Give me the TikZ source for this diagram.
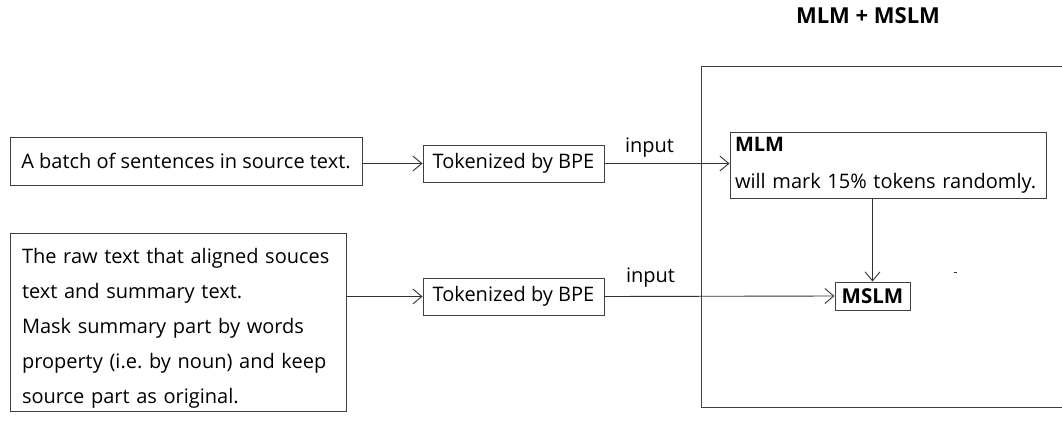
\documentclass[tikz,border=0pt]{standalone}
\usepackage{fontspec}
\setmainfont{Open Sans}
\usetikzlibrary{arrows.meta}

\begin{document}
\begin{tikzpicture}[
  x=1pt, y=-1pt,
  box/.style={draw=black!75, line width=1pt, inner sep=0pt},
  txt/.style={font=\fontsize{20}{35}\selectfont},
  arr/.style={draw=black!80, line width=0.9pt, -{Straight Barb[length=9pt,width=15pt]}},
  lnk/.style={draw=black!80, line width=0.9pt}
]
\clip (0,0) rectangle (1062,423);

\node [font=\fontsize{22}{24}\selectfont\bfseries] (title) at (868,16) {MLM + MSLM};
\node [box, minimum width=368, minimum height=341] (frame) at (885.5,236.5) {};

\node [box, txt, minimum width=352, minimum height=48] (src) at (186,161) {A batch of sentences in source text.};
\node [box, txt, minimum width=336, minimum height=178, align=left, text width=312, inner xsep=12pt] (raw) at (178,322.5)
  {\rule{0pt}{27pt}The raw text that aligned souces\\ text and summary text.\\ Mask summary part by words\\ property (i.e.\ by noun) and keep\\ source part as original.};

\node [box, txt, minimum width=181, minimum height=37] (tok1) at (513.5,163.5) {Tokenized by BPE};
\node [box, txt, minimum width=181, minimum height=37] (tok2) at (513.5,296.5) {Tokenized by BPE};

\node [box, txt, minimum width=316, minimum height=66, align=left, text width=306, inner xsep=5pt] (mlm) at (888,165)
  {\textbf{MLM}\\[2pt] will mark 15\% tokens randomly.};
\node [box, txt, minimum width=75, minimum height=28, inner sep=3pt, font=\fontsize{20.5}{22}\selectfont\bfseries] (mslm) at (872.5,296) {MSLM};

\draw [arr] (src.east |- tok1.west) -- (tok1.west);
\draw [arr] (raw.east |- tok2.west) -- (tok2.west);
\draw [arr] (tok1.east) -- (tok1.east -| mlm.west) node [txt, pos=0.36, above=2pt] (in1) {input};
\draw [arr] (tok2.east) -- (mslm.west) node [txt, pos=0.2, above=5pt] (in2) {input};
\draw [arr] (mlm.south -| mslm.north) -- (mslm.north);

\draw [lnk] (953.5,272) -- ++(3,0);
\end{tikzpicture}
\end{document}
